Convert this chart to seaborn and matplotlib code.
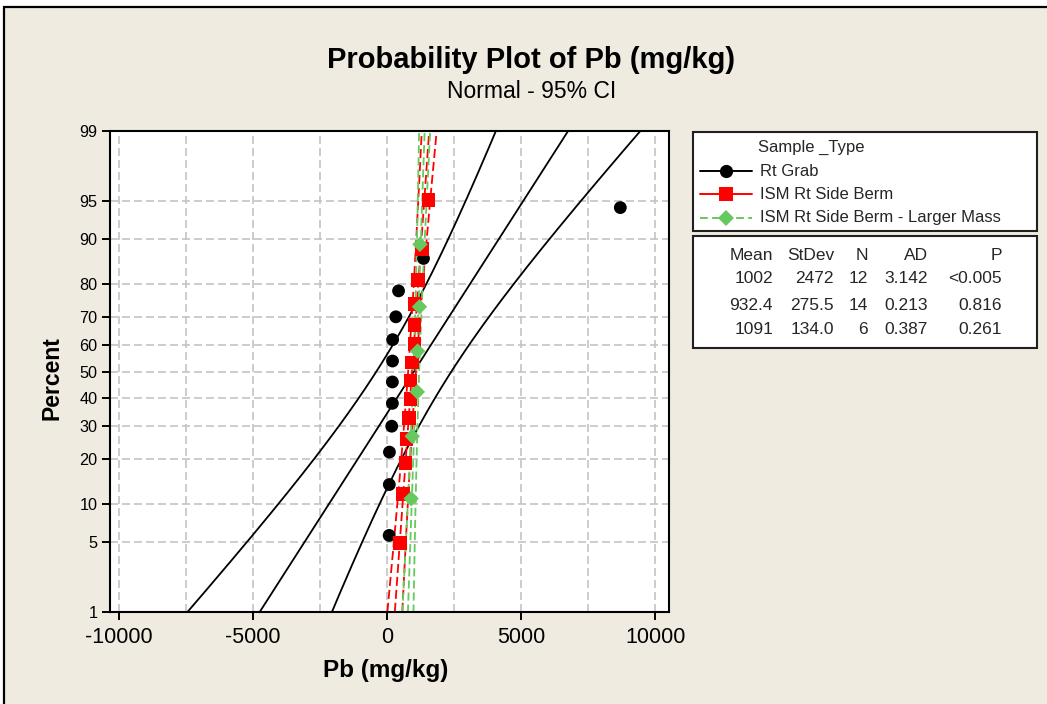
import numpy as np
import pandas as pd
import seaborn as sns
import matplotlib
matplotlib.use("Agg")
import matplotlib.pyplot as plt
from matplotlib.patches import Rectangle
from matplotlib.lines import Line2D
from statistics import NormalDist

# ---------------- data ----------------
groups = ["Rt Grab", "ISM Rt Side Berm", "ISM Rt Side Berm - Larger Mass"]
rt_grab = [80, 85, 90, 175, 200, 200, 205, 210, 330, 430, 1360, 8700]
ism_berm = [475, 600, 690, 725, 810, 875, 880, 940, 1020, 1025, 1030, 1150, 1310, 1555]
ism_larger = [900, 940, 1130, 1140, 1210, 1226]

mean_vals = [1002, 932.4, 1091]
sd_vals = [2472, 275.5, 134.0]
n_vals = [12, 14, 6]
mean_txt = ["1002", "932.4", "1091"]
sd_txt = ["2472", "275.5", "134.0"]
n_txt = ["12", "14", "6"]
ad_txt = ["3.142", "0.213", "0.387"]
p_txt = ["<0.005", "0.816", "0.261"]

pct_ticks = [1, 5, 10, 20, 30, 40, 50, 60, 70, 80, 90, 95, 99]
x_ticks = [-10000, -5000, 0, 5000, 10000]

# ---------------- style ----------------
W, H = 1047, 704
FONT = ["Liberation Sans", "DejaVu Sans"]
sns.set_theme(style="white")
plt.rcParams["font.family"] = FONT

nd = NormalDist()
zf = np.vectorize(lambda p: nd.inv_cdf(p))

colors = ["#000000", "#FF0000", "#66C95E"]
markers = ["o", "s", "D"]
msizes = [85, 95, 62]

fig = plt.figure(figsize=(W / 100, H / 100), dpi=100)
fig.patch.set_facecolor("white")
fig.add_artist(Rectangle((4 / W, -0.05), 1.1, 1 - 7 / H + 0.05, transform=fig.transFigure,
                         facecolor="#EFEBE1", edgecolor="black", lw=1.6, zorder=-10))

def fx(px):
    return px / W

def fy(py):
    return 1 - py / H

ax = fig.add_axes([fx(110), fy(612), (668.6 - 110) / W, (612 - 131) / H])
ax.set_facecolor("white")

# ---------------- fitted lines and CIs ----------------
zz = np.linspace(-2.45, 2.45, 300)
line_styles = ["-", (0, (5, 2.2)), (0, (4.5, 2.2))]
draw_order = [0, 1, 2]
for gi in draw_order:
    mu, sd, n = mean_vals[gi], sd_vals[gi], n_vals[gi]
    center = mu + sd * zz
    half = 1.96 * sd * np.sqrt((1 + zz ** 2 / 2) / n)
    for xs in (center - half, center, center + half):
        df = pd.DataFrame({"x": xs, "z": zz})
        sns.lineplot(data=df, x="x", y="z", sort=False, estimator=None, ax=ax,
                     color=colors[gi], lw=1.3, linestyle=line_styles[gi], zorder=2)

# ---------------- points ----------------
data_sets = [rt_grab, ism_berm, ism_larger]
for gi in [1, 2, 0]:
    vals = np.sort(np.array(data_sets[gi], dtype=float))
    n = len(vals)
    ranks = np.arange(1, n + 1)
    pp = (ranks - 0.3) / (n + 0.4)
    df = pd.DataFrame({"x": vals, "z": zf(pp)})
    sns.scatterplot(data=df, x="x", y="z", ax=ax, marker=markers[gi], s=msizes[gi],
                    color=colors[gi], edgecolor="none", linewidth=0, zorder=3 + gi)

# ---------------- axes ----------------
ax.set_xlim(-10330, 10500)
ax.set_ylim(zf(0.01), zf(0.99))
ax.set_yticks(zf(np.array(pct_ticks) / 100.0))
ax.set_yticklabels([str(p) for p in pct_ticks])
ax.set_xticks(x_ticks)
ax.set_xticklabels([str(v) for v in x_ticks])
ax.set_xticks([-7500, -2500, 2500, 7500], minor=True)
ax.grid(True, which="major", color="#C4C4C4", lw=1.2, linestyle=(0, (4.8, 2.4)), zorder=0)
ax.grid(True, which="minor", axis="x", color="#C4C4C4", lw=1.2, linestyle=(0, (4.8, 2.4)), zorder=0)
ax.set_axisbelow(True)
ax.tick_params(axis="x", which="major", direction="out", length=6, width=1.4, pad=5,
               labelsize=15.5, colors="black", bottom=True)
ax.tick_params(axis="x", which="minor", length=0)
ax.tick_params(axis="y", which="major", direction="out", length=6, width=1.4, pad=3,
               labelsize=11.7, colors="black", left=True)
for s in ax.spines.values():
    s.set_color("black")
    s.set_linewidth(1.5)
ax.set_xlabel("")
ax.set_ylabel("")

# ---------------- titles ----------------
fig.text(fx(531), fy(60), "Probability Plot of Pb (mg/kg)", ha="center", va="center",
         fontsize=21, fontweight="bold", color="black")
fig.text(fx(532), fy(91), "Normal - 95% CI", ha="center", va="center", fontsize=16.5, color="black")
fig.text(fx(386), fy(670), "Pb (mg/kg)", ha="center", va="center", fontsize=17.5,
         fontweight="bold", color="black")
fig.text(fx(52), fy(378), "Percent", ha="center", va="center", rotation=90, fontsize=16.5,
         fontweight="bold", color="black")

# ---------------- legend box ----------------
fig.add_artist(Rectangle((fx(693), fy(231)), (1037 - 693) / W, (231 - 132) / H,
                         transform=fig.transFigure, facecolor="white", edgecolor="#202020", lw=1.5))
fig.text(fx(758), fy(147), "Sample _Type", ha="left", va="center", fontsize=12)
row_y = [171, 194, 218]
leg_ls = ["-", "-", (0, (4, 2.2))]
for gi in range(3):
    fig.add_artist(Line2D([fx(700), fx(752)], [fy(row_y[gi])] * 2, transform=fig.transFigure,
                          color=colors[gi], lw=1.4, linestyle=leg_ls[gi]))
    fig.add_artist(Line2D([fx(726)], [fy(row_y[gi])], transform=fig.transFigure,
                          color=colors[gi], marker=markers[gi], markersize=[9.5, 9.8, 8][gi],
                          markeredgewidth=0, linestyle="none"))
    fig.text(fx(760), fy(row_y[gi]), groups[gi], ha="left", va="center", fontsize=12)

# ---------------- stats table ----------------
fig.add_artist(Rectangle((fx(693), fy(348)), (1037 - 693) / W, (348 - 236) / H,
                         transform=fig.transFigure, facecolor="white", edgecolor="#202020", lw=1.5))
col_x = [773, 834, 868, 928, 1002]
headers = ["Mean", "StDev", "N", "AD", "P"]
for cx, h in zip(col_x, headers):
    fig.text(fx(cx), fy(255), h, ha="right", va="center", fontsize=12.5)
tab_y = [279, 305, 329]
for ri in range(3):
    cells = [mean_txt[ri], sd_txt[ri], n_txt[ri], ad_txt[ri], p_txt[ri]]
    for cx, c in zip(col_x, cells):
        fig.text(fx(cx), fy(tab_y[ri]), c, ha="right", va="center", fontsize=12.5)

fig.savefig("out.png", dpi=100)
